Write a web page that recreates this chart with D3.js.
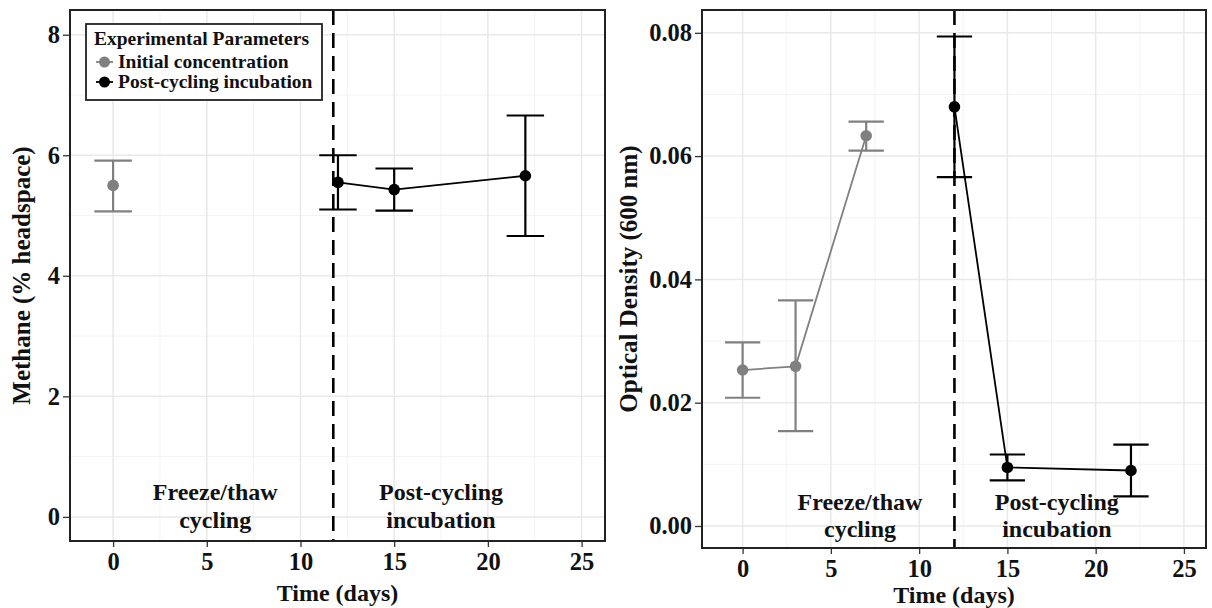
<!DOCTYPE html>
<html>
<head>
<meta charset="utf-8">
<script src="https://cdn.jsdelivr.net/npm/d3@7"></script>
<style>
  body { margin: 0; background: #fff; }
  text { font-family: "Liberation Serif", "Times New Roman", serif; font-weight: bold; }
</style>
</head>
<body>
<div class="vis"></div>
<script>
// data
const xTicks = [0, 5, 10, 15, 20, 25];
const methaneTicks = [0, 2, 4, 6, 8];
const odTicks = [0, 0.02, 0.04, 0.06, 0.08];

const methaneInitDays = [0];
const methaneInitMean = [5.5];
const methaneInitLow = [5.07];
const methaneInitHigh = [5.91];

const methanePostDays = [12, 15, 22];
const methanePostMean = [5.55, 5.43, 5.66];
const methanePostLow = [5.10, 5.08, 4.66];
const methanePostHigh = [6.0, 5.78, 6.66];

const odInitDays = [0, 3, 7];
const odInitMean = [0.0253, 0.0259, 0.0633];
const odInitLow = [0.0208, 0.0154, 0.0609];
const odInitHigh = [0.0298, 0.0366, 0.0656];

const odPostDays = [12, 15, 22];
const odPostMean = [0.068, 0.0095, 0.0090];
const odPostLow = [0.0566, 0.0074, 0.0048];
const odPostHigh = [0.0794, 0.0116, 0.0132];

const grey = "#808080";

const svg = d3.select(".vis").append("svg")
  .attr("width", 1212).attr("height", 608);

function series(days, mean, low, high) {
  return days.map((d, i) => ({ x: d, y: mean[i], lo: low[i], hi: high[i] }));
}

function drawPanel(p) {
  const x = d3.scaleLinear().domain([-2.3, 26.25]).range([p.left, p.right]);
  const y = d3.scaleLinear().domain(p.yDomain).range([p.bottom, p.top]);
  const g = svg.append("g");

  // grid
  const minorX = d3.range(-2.5, 27.5, 5);
  const yStep = p.yTicks[1] - p.yTicks[0];
  const minorY = p.yTicks.map(t => t + yStep / 2).concat([p.yTicks[0] - yStep / 2]);
  g.selectAll(".mx").data(minorX.filter(v => v > -2.3 && v < 26.25)).enter().append("line")
    .attr("x1", d => x(d)).attr("x2", d => x(d)).attr("y1", p.top).attr("y2", p.bottom)
    .attr("stroke", "#f3f3f3").attr("stroke-width", 1);
  g.selectAll(".my").data(minorY.filter(v => v > p.yDomain[0] && v < p.yDomain[1])).enter().append("line")
    .attr("y1", d => y(d)).attr("y2", d => y(d)).attr("x1", p.left).attr("x2", p.right)
    .attr("stroke", "#f3f3f3").attr("stroke-width", 1);
  g.selectAll(".gx").data(xTicks).enter().append("line")
    .attr("x1", d => x(d)).attr("x2", d => x(d)).attr("y1", p.top).attr("y2", p.bottom)
    .attr("stroke", "#e9e9e9").attr("stroke-width", 1.5);
  g.selectAll(".gy").data(p.yTicks).enter().append("line")
    .attr("y1", d => y(d)).attr("y2", d => y(d)).attr("x1", p.left).attr("x2", p.right)
    .attr("stroke", "#e9e9e9").attr("stroke-width", 1.5);

  // annotations
  p.notes.forEach(n => {
    g.append("text").attr("x", x(n.x)).attr("y", y(n.y))
      .attr("text-anchor", "middle").attr("font-size", 24).attr("fill", "#111")
      .text(n.t);
  });

  // dashed separator
  g.append("line")
    .attr("x1", x(p.split)).attr("x2", x(p.split)).attr("y1", p.top).attr("y2", p.bottom)
    .attr("stroke", "#000").attr("stroke-width", 2.6).attr("stroke-dasharray", "15,8");

  const line = d3.line().x(d => x(d.x)).y(d => y(d.y));
  p.data.forEach(s => {
    g.append("path").datum(s.pts).attr("d", line)
      .attr("fill", "none").attr("stroke", s.color).attr("stroke-width", 1.8);
    const eb = g.selectAll(null).data(s.pts).enter().append("g");
    eb.append("line").attr("x1", d => x(d.x)).attr("x2", d => x(d.x))
      .attr("y1", d => y(d.lo)).attr("y2", d => y(d.hi))
      .attr("stroke", s.color).attr("stroke-width", 2.2);
    eb.append("line").attr("x1", d => x(d.x - 1)).attr("x2", d => x(d.x + 1))
      .attr("y1", d => y(d.lo)).attr("y2", d => y(d.lo))
      .attr("stroke", s.color).attr("stroke-width", 2.2);
    eb.append("line").attr("x1", d => x(d.x - 1)).attr("x2", d => x(d.x + 1))
      .attr("y1", d => y(d.hi)).attr("y2", d => y(d.hi))
      .attr("stroke", s.color).attr("stroke-width", 2.2);
    eb.append("circle").attr("cx", d => x(d.x)).attr("cy", d => y(d.y)).attr("r", 5.8)
      .attr("fill", s.color);
  });

  // axes
  const xAxis = d3.axisBottom(x).tickValues(xTicks).tickSize(6).tickPadding(5.5)
    .tickFormat(d3.format("d"));
  const yAxis = d3.axisLeft(y).tickValues(p.yTicks).tickSize(7).tickPadding(3)
    .tickFormat(p.fmt);
  const ax = g.append("g").attr("transform", `translate(0,${p.bottom})`).call(xAxis);
  const ay = g.append("g").attr("transform", `translate(${p.left},0)`).call(yAxis);
  [ax, ay].forEach(a => {
    a.select(".domain").remove();
    a.selectAll("line").attr("stroke", "#333").attr("stroke-width", 1.3);
    a.selectAll("text").attr("font-size", 24.5).attr("fill", "#111")
      .style("font-family", "'Liberation Serif', serif").style("font-weight", "bold");
  });

  g.append("rect").attr("x", p.left).attr("y", p.top)
    .attr("width", p.right - p.left).attr("height", p.bottom - p.top)
    .attr("fill", "none").attr("stroke", "#222").attr("stroke-width", 2);

  g.append("text").attr("x", (p.left + p.right) / 2).attr("y", p.xtitleY)
    .attr("text-anchor", "middle").attr("font-size", 24).attr("fill", "#111")
    .text("Time (days)");
  g.append("text")
    .attr("transform", `translate(${p.ytitleX},${(p.top + p.bottom) / 2}) rotate(-90)`)
    .attr("text-anchor", "middle").attr("font-size", 25).attr("fill", "#111")
    .text(p.ytitle);
  return { x, y, g };
}

drawPanel({
  left: 70, right: 605, top: 10, bottom: 541,
  yDomain: [-0.4, 8.41], yTicks: methaneTicks, fmt: d3.format("d"),
  split: 11.75, ytitle: "Methane (% headspace)", ytitleX: 30, xtitleY: 601,
  notes: [
    { x: 5.45, y: 0.28, t: "Freeze/thaw" }, { x: 5.45, y: -0.184, t: "cycling" },
    { x: 17.5, y: 0.28, t: "Post-cycling" }, { x: 17.5, y: -0.184, t: "incubation" }
  ],
  data: [
    { color: grey, pts: series(methaneInitDays, methaneInitMean, methaneInitLow, methaneInitHigh) },
    { color: "#000", pts: series(methanePostDays, methanePostMean, methanePostLow, methanePostHigh) }
  ]
});

drawPanel({
  left: 702, right: 1206, top: 10, bottom: 548,
  yDomain: [-0.00357, 0.0837], yTicks: odTicks, fmt: d3.format(".2f"),
  split: 12, ytitle: "Optical Density (600 nm)", ytitleX: 637, xtitleY: 603,
  notes: [
    { x: 6.65, y: 0.00259, t: "Freeze/thaw" }, { x: 6.65, y: -0.00179, t: "cycling" },
    { x: 17.8, y: 0.00259, t: "Post-cycling" }, { x: 17.8, y: -0.00179, t: "incubation" }
  ],
  data: [
    { color: grey, pts: series(odInitDays, odInitMean, odInitLow, odInitHigh) },
    { color: "#000", pts: series(odPostDays, odPostMean, odPostLow, odPostHigh) }
  ]
});

// legend
const lg = svg.append("g");
lg.append("rect").attr("x", 86).attr("y", 24).attr("width", 236).attr("height", 76)
  .attr("fill", "#fff").attr("stroke", "#222").attr("stroke-width", 1.8);
lg.append("text").attr("x", 94).attr("y", 45).attr("font-size", 19.5).attr("fill", "#111")
  .text("Experimental Parameters");
const legendItems = [
  { label: "Initial concentration", color: grey },
  { label: "Post-cycling incubation", color: "#000" }
];
legendItems.forEach((it, i) => {
  const yy = 62 + i * 20;
  lg.append("line").attr("x1", 96).attr("x2", 113).attr("y1", yy).attr("y2", yy)
    .attr("stroke", it.color).attr("stroke-width", 1.8);
  lg.append("circle").attr("cx", 104.5).attr("cy", yy).attr("r", 5.5).attr("fill", it.color);
  lg.append("text").attr("x", 118).attr("y", yy + 6).attr("font-size", 19.5).attr("fill", "#111")
    .text(it.label);
});
</script>
</body>
</html>
